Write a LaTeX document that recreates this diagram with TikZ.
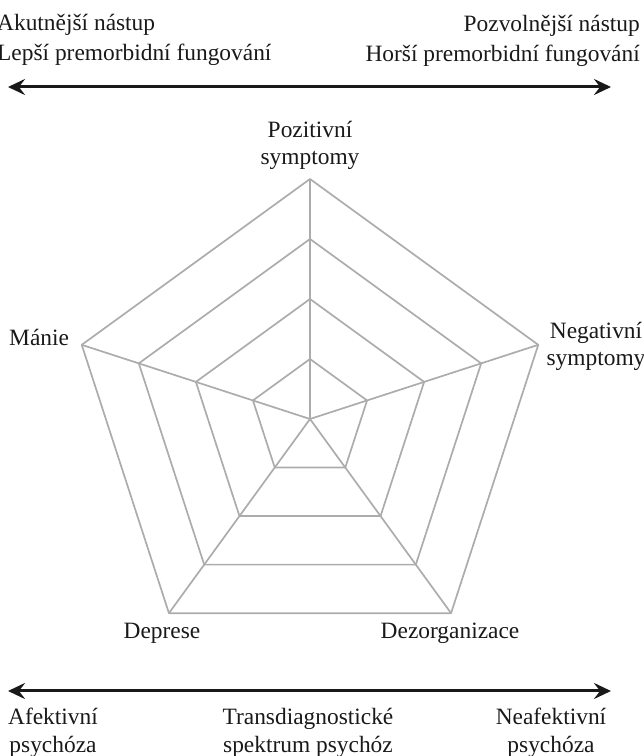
\documentclass[tikz,border=0pt]{standalone}
\usepackage{fontspec}
\setmainfont{Liberation Serif}
\usetikzlibrary{arrows.meta,calc}
\definecolor{webgray}{RGB}{172,172,172}
\definecolor{ink}{RGB}{25,25,25}
\begin{document}
\begin{tikzpicture}[x=1pt,y=1pt,
  lbl/.style={font=\fontsize{23.4}{27}\selectfont, inner sep=0pt, text=ink},
  web/.style={draw=webgray, line width=1.7pt, line join=round},
  axisarrow/.style={draw=ink, line width=3pt,
    {Stealth[length=17pt,width=16pt,inset=6pt]}-{Stealth[length=17pt,width=16pt,inset=6pt]}}]
\useasboundingbox (0,0) rectangle (644,756);
\coordinate (c) at (310,337);
% rings
\foreach \r in {60,120,180,240}{
  \draw[web] ($(c)+(90:\r)$) -- ($(c)+(162:\r)$) -- ($(c)+(234:\r)$)
     -- ($(c)+(306:\r)$) -- ($(c)+(18:\r)$) -- cycle;
}
% outer vertices and spokes
\coordinate (vpos) at ($(c)+(90:240)$);
\coordinate (vman) at ($(c)+(162:240)$);
\coordinate (vdep) at ($(c)+(234:240)$);
\coordinate (vdez) at ($(c)+(306:240)$);
\coordinate (vneg) at ($(c)+(18:240)$);
\foreach \v in {vpos,vman,vdep,vdez,vneg}{\draw[web] (c) -- (\v);}
% axis arrows
\coordinate (tl) at (8,669);
\coordinate (tr) at (611,669);
\coordinate (bl) at (8,65);
\coordinate (br) at (611,65);
\draw[axisarrow] (tl) -- (tr);
\draw[axisarrow] (bl) -- (br);
% top labels
\node[lbl, anchor=base west] (ak) at (-3,725) {Akutnější nástup};
\node[lbl, anchor=base west] (le) at (-3,695) {Lepší premorbidní fungování};
\node[lbl, anchor=base east] (po) at (640,724) {Pozvolnější nástup};
\node[lbl, anchor=base east] (ho) at (640,694) {Horší premorbidní fungování};
% web labels
\node[lbl, anchor=base] (pos1) at (310,618) {Pozitivní};
\node[lbl, anchor=base] (pos2) at (310,591) {symptomy};
\node[lbl, anchor=base west] (man) at (9,410) {Mánie};
\node[lbl, anchor=base] (neg1) at (596,417) {Negativní};
\node[lbl, anchor=base] (neg2) at (596,390) {symptomy};
\node[lbl, anchor=base] (dep) at (162,117) {Deprese};
\node[lbl, anchor=base] (dez) at (450,117) {Dezorganizace};
% bottom labels
\node[lbl, anchor=base] (af1) at (53,31) {Afektivní};
\node[lbl, anchor=base] (af2) at (53,4) {psychóza};
\node[lbl, anchor=base] (tr1) at (308,31) {Transdiagnostické};
\node[lbl, anchor=base] (tr2) at (308,4) {spektrum psychóz};
\node[lbl, anchor=base] (ne1) at (551,31) {Neafektivní};
\node[lbl, anchor=base] (ne2) at (551,4) {psychóza};
\end{tikzpicture}
\end{document}
